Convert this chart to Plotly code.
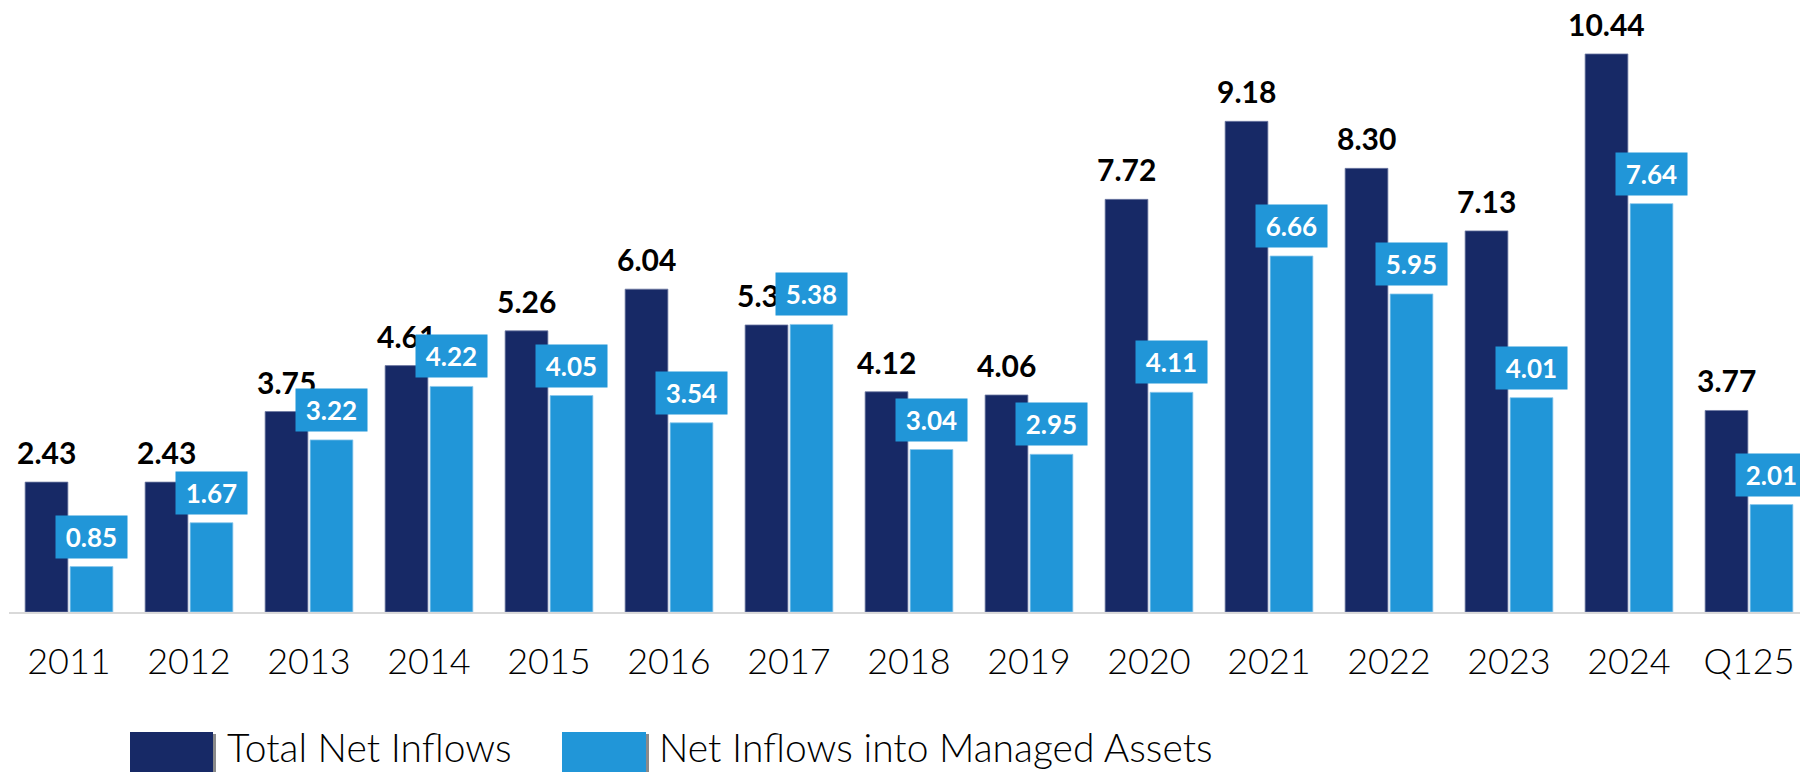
import plotly.graph_objects as go

categories = ["2011", "2012", "2013", "2014", "2015", "2016", "2017", "2018",
              "2019", "2020", "2021", "2022", "2023", "2024", "Q125"]
total_net_inflows = [2.43, 2.43, 3.75, 4.61, 5.26, 6.04, 5.37, 4.12,
                     4.06, 7.72, 9.18, 8.30, 7.13, 10.44, 3.77]
managed_inflows = [0.85, 1.67, 3.22, 4.22, 4.05, 3.54, 5.38, 3.04,
                   2.95, 4.11, 6.66, 5.95, 4.01, 7.64, 2.01]
series_names = ["Total Net Inflows", "Net Inflows into Managed Assets"]

DARK = "#172966"
LIGHT = "#2196d8"
FONT = "Lato, 'Open Sans', sans-serif"

W, H = 1800, 772
L, R, T, B = 9, 0, 0, 160
plot_w = W - L - R
plot_h = H - T - B
px_per_cat = 120.0
px_per_unit = 53.45

fig = go.Figure()
fig.add_trace(go.Bar(x=categories, y=total_net_inflows, name=series_names[0],
                     marker=dict(color=DARK, line=dict(color="#6f7aa3", width=0.8)),
                     showlegend=False, hoverinfo="x+y"))
fig.add_trace(go.Bar(x=categories, y=managed_inflows, name=series_names[1],
                     marker=dict(color=LIGHT, line=dict(color="#8cc8ec", width=0.8)),
                     showlegend=False, hoverinfo="x+y"))

annotations = []
# dark labels (black, bold) above dark bars
for i, (c, v) in enumerate(zip(categories, total_net_inflows)):
    annotations.append(dict(
        x=i, y=v, xref="x", yref="y", xshift=-22.5, yshift=10,
        text=f"<b>{v:.2f}</b>", showarrow=False, xanchor="center", yanchor="bottom",
        font=dict(family=FONT, size=30, color="black")))
# light labels (white on blue boxes) above light bars
for i, (c, v) in enumerate(zip(categories, managed_inflows)):
    annotations.append(dict(
        x=i, y=v, xref="x", yref="y", xshift=22.5, yshift=8,
        text=f"<b>{v:.2f}</b>", showarrow=False, xanchor="center", yanchor="bottom",
        bgcolor=LIGHT, borderpad=0, width=71, height=42, align="center", valign="middle",
        font=dict(family=FONT, size=26, color="white")))

# manual legend
def px_x(px):
    return (px - L) / plot_w

def px_y(py):
    return (H - B - py) / plot_h

shapes = []
legend_items = [(130, 213, 225, DARK, series_names[0]),
                (562, 646, 657, LIGHT, series_names[1])]
for x0, x1, tx, col, name in legend_items:
    shapes.append(dict(type="rect", xref="paper", yref="paper",
                       x0=px_x(x1), x1=px_x(x1 + 3), y0=px_y(790), y1=px_y(734),
                       fillcolor="#8a8a8a", line=dict(width=0), layer="above"))
    shapes.append(dict(type="rect", xref="paper", yref="paper",
                       x0=px_x(x0), x1=px_x(x1), y0=px_y(790), y1=px_y(732),
                       fillcolor=col, line=dict(width=0), layer="above"))
    annotations.append(dict(
        x=px_x(tx), y=px_y(747), xref="paper", yref="paper", text=name,
        showarrow=False, xanchor="left", yanchor="middle",
        font=dict(family=FONT, size=39, color="black", weight=300)))

fig.update_layout(
    width=W, height=H,
    margin=dict(l=L, r=R, t=T, b=B, pad=0),
    paper_bgcolor="white", plot_bgcolor="white",
    barmode="group", bargap=0.25, bargroupgap=0.05,
    annotations=annotations, shapes=shapes,
    xaxis=dict(range=[-0.5, -0.5 + plot_w / px_per_cat], showline=True,
               linecolor="#d9d9d9", linewidth=2, showgrid=False, zeroline=False,
               ticks="", ticklabelstandoff=17,
               tickfont=dict(family=FONT, size=36, color="black", weight=300)),
    yaxis=dict(range=[0, plot_h / px_per_unit], visible=False, showgrid=False,
               zeroline=False),
)

fig.write_html("out.html", config={"displayModeBar": False},
               post_script="document.body.style.margin='0';")
